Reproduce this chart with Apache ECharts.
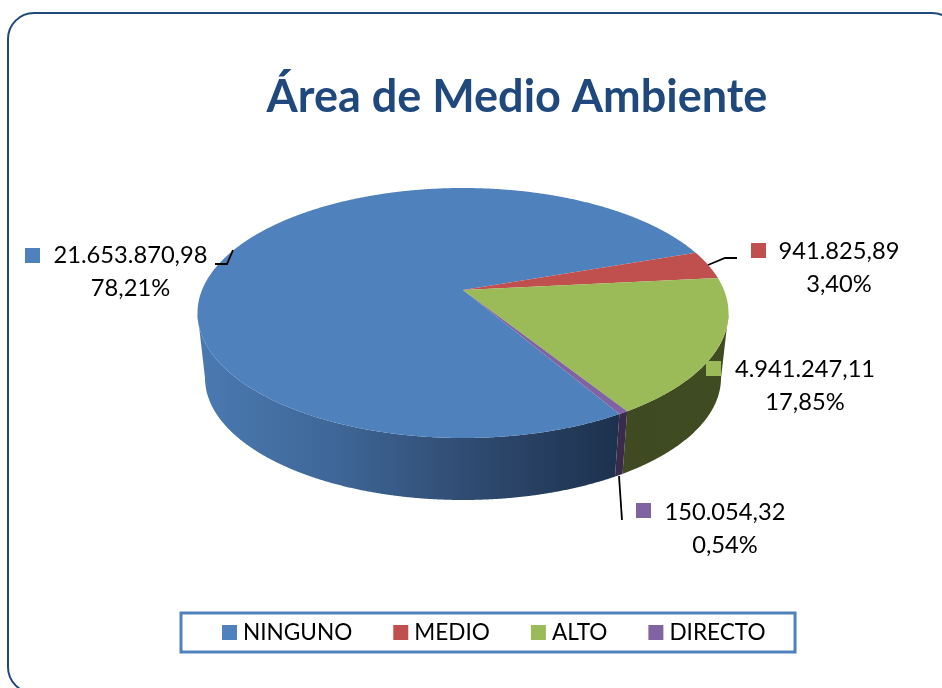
<!DOCTYPE html>
<html>
<head>
<meta charset="utf-8">
<style>html,body{margin:0;padding:0;background:#fff;overflow:hidden}#c{width:942px;height:688px}</style>
<script src="https://cdn.jsdelivr.net/npm/echarts@6/dist/echarts.min.js"></script>
</head>
<body>
<div id="c"></div>
<script>
// ---- data ----
const categories = ['NINGUNO', 'MEDIO', 'ALTO', 'DIRECTO'];
const values = [21653870.98, 941825.89, 4941247.11, 150054.32];

// ---- styling / layout ----
const colors = ['#4f81bd', '#c0504d', '#9bbb59', '#8064a2'];
const FONT = 'Lato, Carlito, sans-serif';
const apex = [463, 290];
const topRim = { cx: 463, cy: 313, rx: 265.5, ry: 125 };
const baseRim = { cx: 463, cy: 378, rx: 258, ry: 122 };
const startDeg = 143.9, skewDeg = 4.3;
const wallFills = [
  new echarts.graphic.LinearGradient(200, 0, 625, 0, [
    { offset: 0, color: '#4a79b1' }, { offset: 0.3, color: '#3f6899' },
    { offset: 0.65, color: '#2f4a70' }, { offset: 1, color: '#1b304c' }
  ], true),
  '#5f2e2c',
  new echarts.graphic.LinearGradient(620, 0, 725, 0, [
    { offset: 0, color: '#3f4a22' }, { offset: 1, color: '#3f4b21' }
  ], true),
  '#3a2a4c'
];
const labelLayout = [
  { cx: 130.5, y: 255, mx: 25, my: 248, leader: [[215, 264], [227, 264], [233, 250]] },
  { cx: 839, y: 251, mx: 751, my: 243, leader: [[708, 265], [725, 258], [737, 258]] },
  { cx: 805, y: 369, mx: 706, my: 361, leader: null },
  { cx: 725, y: 512, mx: 636, my: 503, leader: [[619, 476], [622, 520]] }
];

const total = values.reduce((a, b) => a + b, 0);
const fmtValue = v => v.toLocaleString('de-DE', { minimumFractionDigits: 2, maximumFractionDigits: 2 });
const fmtPct = v => (v / total * 100).toFixed(2).replace('.', ',') + '%';

function warp(deg) {
  return startDeg + deg + skewDeg * Math.sin(deg * Math.PI / 180);
}
function rimPoint(rim, deg) {
  const w = warp(deg) * Math.PI / 180;
  return [rim.cx + rim.rx * Math.sin(w), rim.cy - rim.ry * Math.cos(w)];
}
function angles(a0, a1) {
  const list = [], n = Math.max(2, Math.ceil((a1 - a0) * 4));
  for (let k = 0; k <= n; k++) list.push(a0 + (a1 - a0) * k / n);
  return list;
}
function frontFacing(deg) {
  const t = ((warp(deg) % 360) + 360) % 360;
  return t >= 90 && t <= 270;
}

function makeRender(i) {
  return function (params, api) {
    const v = api.value(0);
    const before = values.slice(0, i).reduce((a, b) => a + b, 0);
    const a0 = before / total * 360, a1 = (before + v) / total * 360;
    const children = [];
    // side wall: only the front-facing part of the rim
    const wallAngles = angles(a0, a1).filter(frontFacing);
    if (wallAngles.length > 1) {
      const top = wallAngles.map(a => rimPoint(topRim, a));
      const base = wallAngles.map(a => rimPoint(baseRim, a)).reverse();
      children.push({
        type: 'polygon', z2: 1, silent: true,
        shape: { points: top.concat(base) },
        style: { fill: wallFills[i] }
      });
    }
    // top face
    children.push({
      type: 'polygon', z2: 5, silent: true,
      shape: { points: [apex].concat(angles(a0, a1).map(a => rimPoint(topRim, a))) },
      style: { fill: colors[i] }
    });
    // label
    const L = labelLayout[i];
    if (L.leader) children.push({
      type: 'polyline', z2: 8, silent: true,
      shape: { points: L.leader },
      style: { stroke: '#000', lineWidth: 1.8, fill: null }
    });
    children.push({
      type: 'rect', z2: 9, silent: true,
      shape: { x: L.mx, y: L.my, width: 15, height: 15 },
      style: { fill: colors[i] }
    });
    [fmtValue(v), fmtPct(v)].forEach((t, k) => children.push({
      type: 'text', z2: 10, silent: true,
      style: { text: t, x: L.cx, y: L.y + k * 33, align: 'center', verticalAlign: 'middle',
               font: '23.7px ' + FONT, fill: '#000' }
    }));
    return { type: 'group', children };
  };
}

const chart = echarts.init(document.getElementById('c'), null, { renderer: 'canvas' });
chart.setOption({
  animation: false,
  backgroundColor: '#fff',
  title: {
    text: 'Área de Medio Ambiente',
    left: 512, top: 70, textAlign: 'center',
    textStyle: { fontFamily: FONT, fontSize: 45, fontWeight: 'bold', color: '#1f497d' }
  },
  legend: {
    data: categories,
    left: 181, top: 613,
    orient: 'horizontal',
    icon: 'rect',
    itemWidth: 15, itemHeight: 15, itemGap: 41,
    padding: [8, 29.5, 8, 41],
    borderColor: '#4f81bd', borderWidth: 3,
    selectedMode: false,
    textStyle: { fontFamily: FONT, fontSize: 22.6, color: '#000', padding: [0, 0, 0, 1] }
  },
  graphic: [{
    type: 'rect', silent: true, z: 0,
    shape: { x: 8, y: 13, width: 950, height: 680, r: 26 },
    style: { fill: 'none', stroke: '#1f497d', lineWidth: 2 }
  }],
  series: categories.map((name, i) => ({
    type: 'custom',
    name,
    coordinateSystem: 'none',
    itemStyle: { color: colors[i] },
    renderItem: makeRender(i),
    data: [[values[i]]]
  }))
});
</script>
</body>
</html>
